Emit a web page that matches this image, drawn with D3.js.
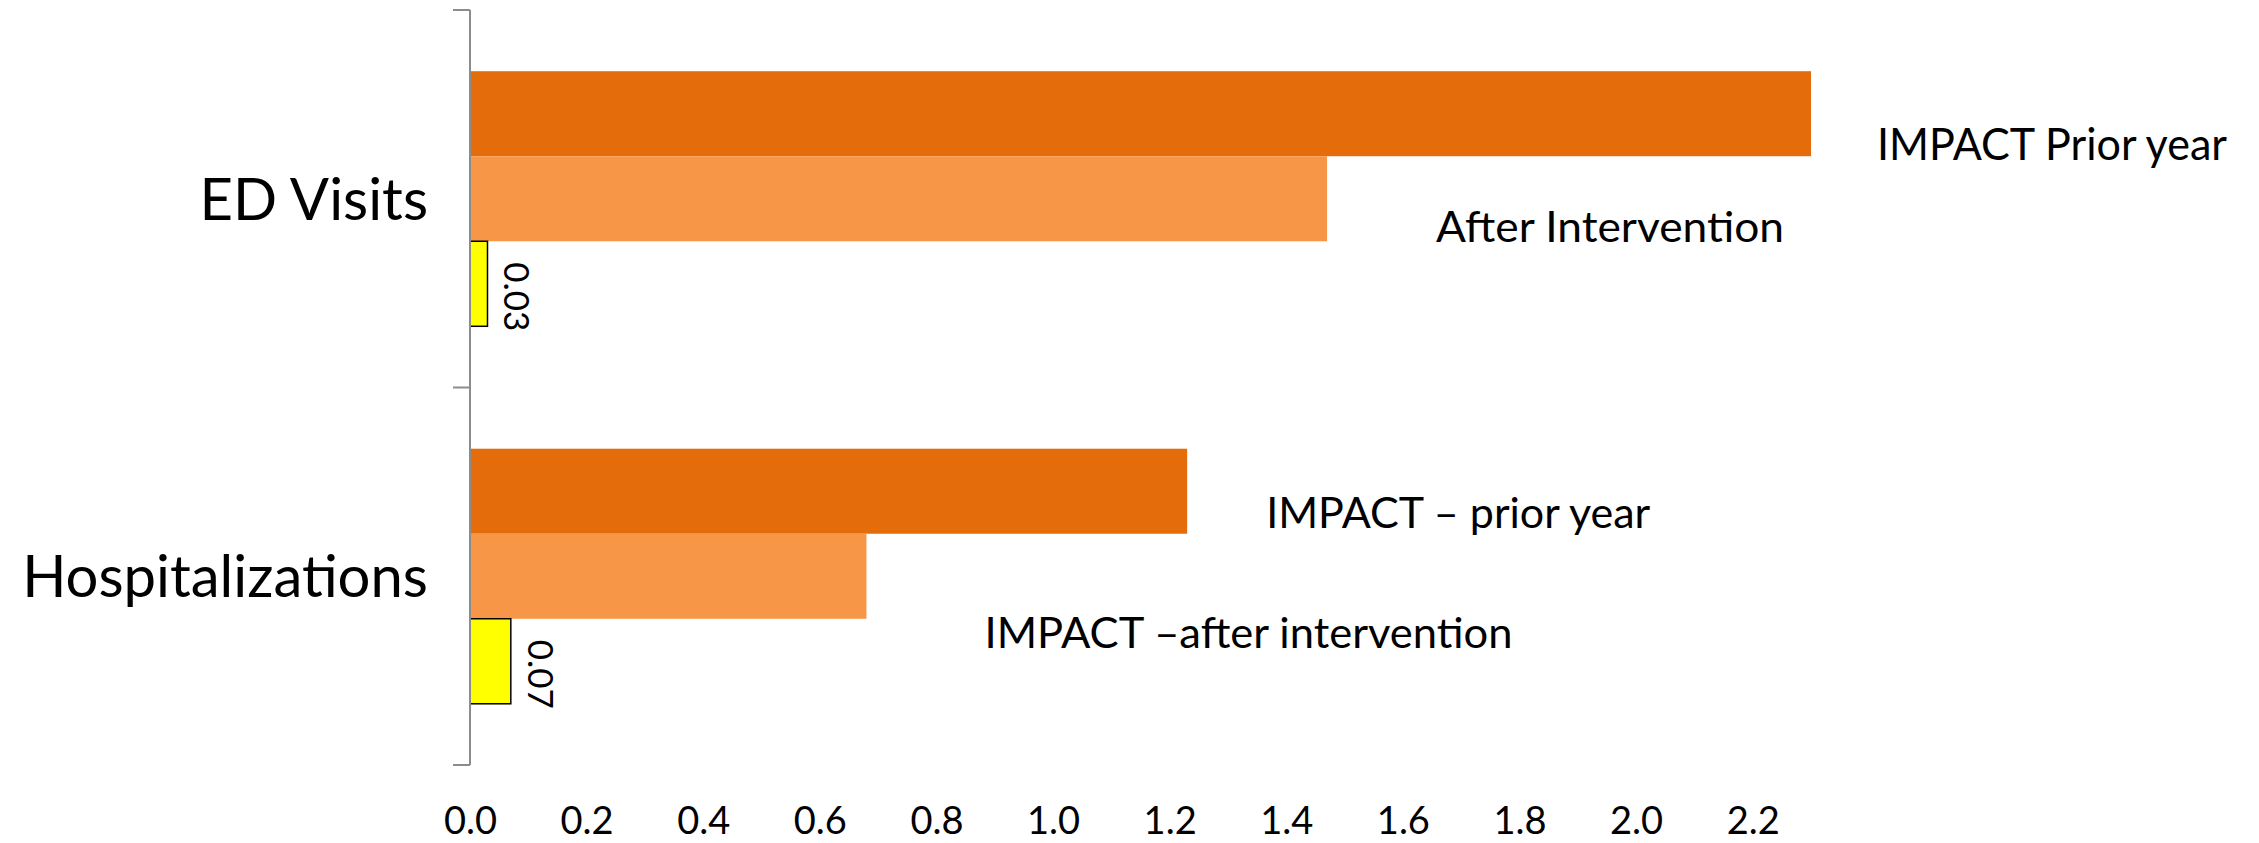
<!DOCTYPE html>
<html>
<head>
<meta charset="utf-8">
<script src="https://cdn.jsdelivr.net/npm/d3@7"></script>
<style>
  html, body { margin: 0; padding: 0; background: #fff; }
  svg { display: block; }
  text { font-family: Lato, "Open Sans", sans-serif; fill: #000; }
</style>
</head>
<body>
<svg id="chart" width="2259" height="843"></svg>
<script>
// Rates per patient: emergency department visits and hospitalizations
const categories = ["ED Visits", "Hospitalizations"];
const seriesKeys = ["prior", "after", "comparison"];
const edValues = [2.30, 1.47, 0.03];
const hospValues = [1.23, 0.68, 0.07];
const xTicks = [0.0, 0.2, 0.4, 0.6, 0.8, 1.0, 1.2, 1.4, 1.6, 1.8, 2.0, 2.2];
const edNames = ["IMPACT Prior year", "After Intervention"];
const hospNames = ["IMPACT \u2013 prior year", "IMPACT \u2013after intervention"];

const colors = { prior: "#E46C0A", after: "#F79646", comparison: "#FFFF00" };

const rows = [
  { cat: categories[0], values: edValues, names: edNames },
  { cat: categories[1], values: hospValues, names: hospNames }
];

const svg = d3.select("#chart");

const x = d3.scaleLinear().domain([0, 2.3]).range([470, 1811]);
const y0 = d3.scaleBand().domain(categories).range([10, 765]).padding(0);
const y1 = d3.scaleBand().domain(seriesKeys).range([0, y0.bandwidth()])
  .paddingInner(0).paddingOuter(0.72);

// bars
const groups = svg.append("g").selectAll("g")
  .data(rows).join("g")
  .attr("transform", d => `translate(0,${y0(d.cat)})`);

groups.selectAll("rect")
  .data(d => d.values.map((v, i) => ({ key: seriesKeys[i], value: v })))
  .join("rect")
  .attr("x", x(0))
  .attr("y", d => y1(d.key))
  .attr("width", d => x(d.value) - x(0))
  .attr("height", y1.bandwidth())
  .attr("fill", d => colors[d.key])
  .attr("stroke", d => d.key === "comparison" ? "#000" : "none")
  .attr("stroke-width", 1.5);

// rotated value labels on the small comparison bars
groups.append("text")
  .attr("transform", d => `translate(${x(d.values[2]) + 17},${y1("comparison") + 21}) rotate(90)`)
  .attr("font-size", 35)
  .text(d => d.values[2].toFixed(2));

// series name annotations next to the orange bars
const nameOffsets = [
  [{ dx: 66, dy: 4, w: 350 }, { dx: 109, dy: 1, w: 348 }],
  [{ dx: 79, dy: -6, w: 384 }, { dx: 118, dy: 29, w: 528 }]
];
groups.each(function (d, gi) {
  const g = d3.select(this);
  d.names.forEach((name, i) => {
    const o = nameOffsets[gi][i];
    g.append("text")
      .attr("x", x(d.values[i]) + o.dx)
      .attr("y", y1(seriesKeys[i]) + y1.bandwidth() + o.dy)
      .attr("font-size", gi === 0 && i === 0 ? 44 : 42)
      .attr("textLength", o.w)
      .attr("lengthAdjust", "spacingAndGlyphs")
      .text(name);
  });
});

// vertical category axis with ticks at band boundaries
const axisColor = "#8C8C8C";
const bounds = [y0.range()[0]].concat(categories.map(c => y0(c) + y0.bandwidth()));
svg.append("line")
  .attr("x1", x(0)).attr("x2", x(0))
  .attr("y1", bounds[0]).attr("y2", bounds[bounds.length - 1])
  .attr("stroke", axisColor).attr("stroke-width", 2);
svg.append("g").selectAll("line")
  .data(bounds).join("line")
  .attr("x1", x(0) - 17).attr("x2", x(0))
  .attr("y1", d => d).attr("y2", d => d)
  .attr("stroke", axisColor).attr("stroke-width", 2);

// category labels
svg.append("g").selectAll("text")
  .data(categories).join("text")
  .attr("x", 428)
  .attr("y", d => y0(d) + y0.bandwidth() / 2 + 21)
  .attr("text-anchor", "end")
  .attr("font-size", 58)
  .text(d => d);

// value axis labels (no axis line)
const xAxis = svg.append("g")
  .attr("transform", "translate(0,806)")
  .call(d3.axisBottom(x).tickValues(xTicks).tickFormat(d3.format(".1f")).tickSize(0).tickPadding(0));
xAxis.select(".domain").remove();
xAxis.selectAll("text")
  .attr("font-size", 38)
  .attr("font-family", "Lato, 'Open Sans', sans-serif")
  .attr("fill", "#000")
  .attr("dy", "0.74em");
</script>
</body>
</html>
